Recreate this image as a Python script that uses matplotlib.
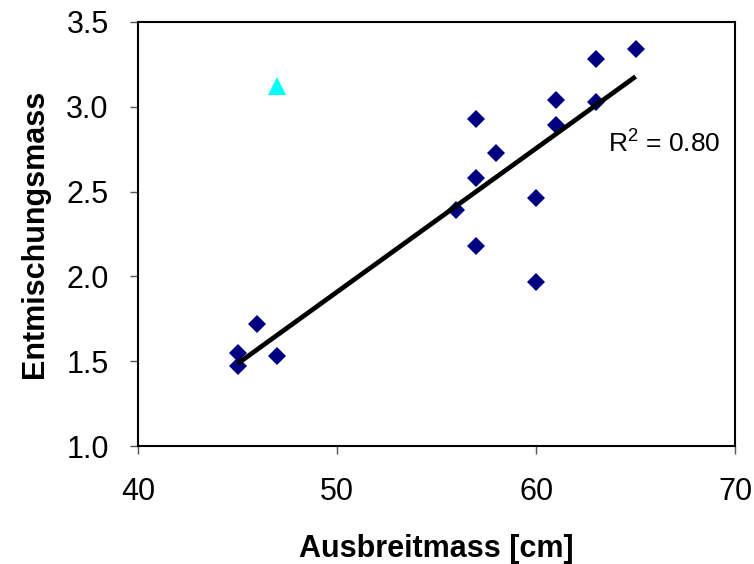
import numpy as np
import matplotlib.pyplot as plt

plt.rcParams['font.family'] = ['Liberation Sans', 'DejaVu Sans']

# Ausbreitmass vs Entmischungsmass
x = [45, 45, 46, 47, 56, 57, 57, 57, 58, 60, 60, 61, 61, 63, 63, 65]
y = [1.55, 1.47, 1.72, 1.53, 2.39, 2.93, 2.58, 2.18, 2.73, 2.46, 1.97, 3.04, 2.89, 3.28, 3.03, 3.34]

# outlier (not in the fit)
x_out = [47]
y_out = [3.12]

coef = np.polyfit(x, y, 1)
pred = np.polyval(coef, x)
r2 = 1 - np.sum((np.array(y) - pred)**2) / np.sum((np.array(y) - np.mean(y))**2)
xl = np.array([min(x), max(x)])

fig = plt.figure(figsize=(7.54, 5.64), dpi=100)
ax = fig.add_axes([0.183, 0.209, 0.792, 0.752])

ax.plot(xl, np.polyval(coef, xl), color='black', lw=3.4, zorder=3, solid_capstyle='butt')
ax.plot(x, y, 'D', color='#000080', markersize=9, markeredgewidth=0, zorder=2)
ax.plot(x_out, y_out, '^', color='#00FFFF', markersize=13, markeredgewidth=0, zorder=2)

ax.text(63.6, 2.73, '$\\mathregular{R^2}$ = %.2f' % r2, fontsize=19, va='baseline')

ax.set_xlim(40, 70)
ax.set_ylim(1.0, 3.5)
ax.set_xticks([40, 50, 60, 70])
ax.set_yticks(np.arange(1.0, 3.51, 0.5))
ax.yaxis.set_major_formatter(plt.FormatStrFormatter('%.1f'))
ax.tick_params(direction='out', length=6, width=1, color='#555555', labelsize=22)
ax.tick_params(axis='y', pad=15)
ax.tick_params(axis='x', pad=16)
for s in ax.spines.values():
    s.set_linewidth(1.5)

ax.set_xlabel('Ausbreitmass [cm]', fontsize=22, fontweight='bold', labelpad=20)
ax.set_ylabel('Entmischungsmass', fontsize=22, fontweight='bold', labelpad=12)

fig.savefig('out.png', dpi=100)
